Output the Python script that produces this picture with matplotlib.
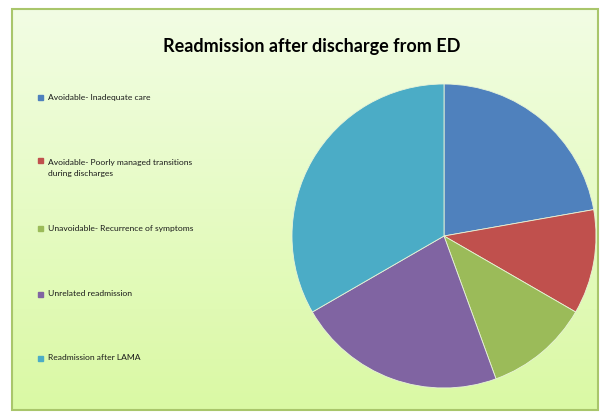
import numpy as np
import matplotlib
matplotlib.use('Agg')
import matplotlib.pyplot as plt
from matplotlib.patches import Rectangle

labels = ['Avoidable- Inadequate care',
          'Avoidable- Poorly managed transitions\nduring discharges',
          'Unavoidable- Recurrence of symptoms',
          'Unrelated readmission',
          'Readmission after LAMA']
counts = [2, 1, 1, 2, 3]
colors = ['#4f81bd', '#c0504d', '#9bbb59', '#8064a2', '#4bacc6']
legend_y = [97, 168, 228, 294, 358]   # pixel rows of legend entries

W, H = 600, 412
fig = plt.figure(figsize=(W / 100, H / 100), dpi=100)
fig.patch.set_facecolor('white')

# chart area: vertical gradient with a thin green border
bg = fig.add_axes([0, 0, 1, 1])
bg.set_xlim(0, W); bg.set_ylim(H, 0); bg.axis('off')
top = np.array([0xf2, 0xfd, 0xe4]) / 255
bot = np.array([0xda, 0xf9, 0xa4]) / 255
t = np.linspace(0, 1, 256)[:, None, None]
grad = top * (1 - t) + bot * t
x0, y0, x1, y1 = 12, 9, 598, 410
bg.imshow(grad, extent=[x0, x1, y1, y0], aspect='auto', zorder=0)
bg.add_patch(Rectangle((x0, y0), x1 - x0, y1 - y0, fill=False,
                       ec='#a9c66b', lw=1.5, zorder=1))

bg.text(312, 46, 'Readmission after discharge from ED', ha='center', va='center',
        fontsize=13, fontweight='bold', family='Lato', color='black')

for lab, col, yy in zip(labels, colors, legend_y):
    nl = lab.count('\n')
    bg.add_patch(Rectangle((38, yy - 2.5 - nl * 7.5), 5, 5, color=col, zorder=2))
    bg.text(48, yy, lab, ha='left', va='center', fontsize=6.1, family='Lato',
            color='#1a1a1a', linespacing=1.8)

# pie: center (444, 236), radius 152 px
cx, cy, r = 444, 236, 152
ax = fig.add_axes([(cx - r) / W, (H - cy - r) / H, 2 * r / W, 2 * r / H])
ax.pie(counts, colors=colors, startangle=90, counterclock=False, radius=1,
       wedgeprops=dict(edgecolor='#e8f4d8', linewidth=0.6))
ax.set_xlim(-1, 1); ax.set_ylim(-1, 1)
ax.set_aspect('equal')
ax.axis('off')

fig.savefig('out.png', dpi=100)
